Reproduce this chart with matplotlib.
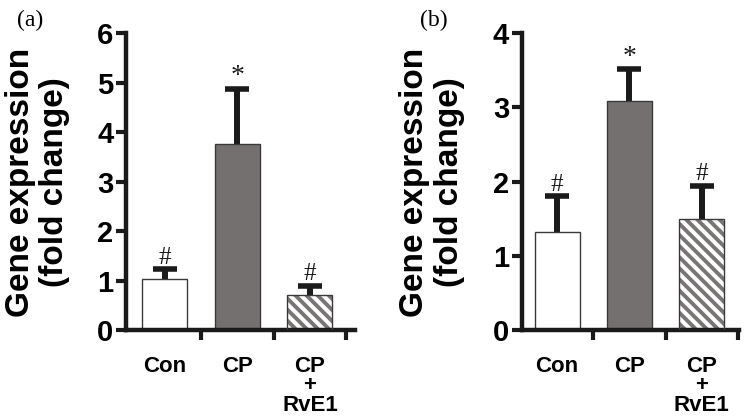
import matplotlib
matplotlib.use("Agg")
import matplotlib.pyplot as plt

plt.rcParams['font.family'] = ['Liberation Sans', 'DejaVu Sans']
plt.rcParams['hatch.linewidth'] = 2.8

# dados dos dois painéis
categorias = ['Con', 'CP', 'CP\n+\nRvE1']
media_a = [1.04, 3.75, 0.70]
erro_a = [0.19, 1.12, 0.19]
marcas_a = ['#', '*', '#']
media_b = [1.32, 3.09, 1.49]
erro_b = [0.48, 0.42, 0.45]
marcas_b = ['#', '*', '#']

cinza = '#747070'
borda = '#3a3a3a'
preto = '#1a1a1a'

fig = plt.figure(figsize=(7.52, 4.17), dpi=100)


def painel(ax, media, erro, marcas, ymax, xlim):
    x = list(range(len(media)))
    topo = [m + e for m, e in zip(media, erro)]
    # barras
    ax.bar(0, media[0], width=0.62, color='white', edgecolor=borda, linewidth=1.0, zorder=2)
    ax.bar(1, media[1], width=0.62, color=cinza, edgecolor=borda, linewidth=1.0, zorder=2)
    ax.bar(2, media[2], width=0.62, color='white', edgecolor='#7a7575', linewidth=0,
           hatch='\\\\\\', zorder=2)
    ax.bar(2, media[2], width=0.62, fill=False, edgecolor=borda, linewidth=1.0, zorder=3)
    # barras de erro (somente para cima)
    ax.errorbar(x, media, yerr=[[0] * len(erro), erro], fmt='none',
                ecolor=preto, elinewidth=4.3, capsize=0, zorder=1)
    ax.plot(x, topo, linestyle='none', marker='_', markersize=17, markeredgewidth=4,
            color=preto, zorder=1)
    for i in x:
        tam = 20 if marcas[i] == '*' else 18
        ax.annotate(marcas[i], (i, topo[i]), xytext=(0, 4),
                    textcoords='offset points', ha='center', va='baseline',
                    fontsize=tam, family='Liberation Serif', color=preto)
    ax.set_ylim(0, ymax)
    ax.set_xlim(*xlim)
    ax.set_yticks(range(0, ymax + 1))
    ax.set_xticks(x)
    ax.set_xticklabels(categorias, fontsize=16, fontweight='bold', linespacing=0.88)
    ax.set_xticks([0.5, 1.5, 2.5], minor=True)
    ax.tick_params(axis='x', which='major', length=0, pad=19)
    ax.tick_params(axis='x', which='minor', length=7, width=3, direction='out', color=preto)
    ax.tick_params(axis='y', length=7, width=3, pad=2, labelsize=21, color=preto)
    for t in ax.get_yticklabels():
        t.set_fontweight('bold')
    for s in ['top', 'right']:
        ax.spines[s].set_visible(False)
    for s in ['left', 'bottom']:
        ax.spines[s].set_linewidth(3.2)
        ax.spines[s].set_color(preto)


ax1 = fig.add_axes([0.1676, 0.2086, 0.3045, 0.712])
painel(ax1, media_a, erro_a, marcas_a, 6, (-0.53, 2.62))
ax2 = fig.add_axes([0.6937, 0.2086, 0.2896, 0.712])
painel(ax2, media_b, erro_b, marcas_b, 4, (-0.49, 2.52))

# títulos dos eixos
fig.text(0.05, 0.5635, 'Gene expression\n(fold change)', rotation=90, ha='center', va='center',
         fontsize=24, fontweight='bold', linespacing=1.15)
fig.text(0.5745, 0.5635, 'Gene expression\n(fold change)', rotation=90, ha='center', va='center',
         fontsize=24, fontweight='bold', linespacing=1.15)

# letras dos painéis
fig.text(0.04, 0.95, '(a)', ha='center', va='center', fontsize=17, family='Liberation Serif')
fig.text(0.577, 0.95, '(b)', ha='center', va='center', fontsize=17, family='Liberation Serif')

plt.savefig('out.png', dpi=100)
